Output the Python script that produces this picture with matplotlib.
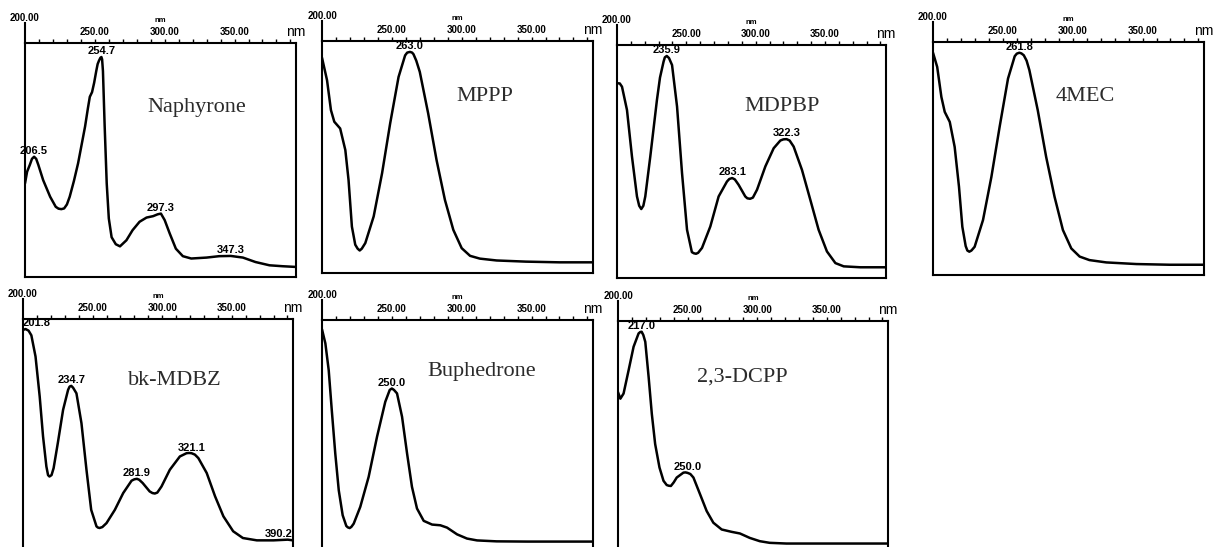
import matplotlib
matplotlib.use("Agg")
import matplotlib.pyplot as plt
import numpy as np

# ---------------- data (normalised absorbance, 0 = frame bottom, 1 = frame top) -------------
naphyrone_wl = [200, 201.5, 203.5, 205, 206.5, 208, 209.5, 213, 218, 222, 224, 226, 228, 230, 232,
                235, 238, 241, 243, 245, 246.4, 248, 249.5, 251, 252, 253, 254, 254.7, 255.2,
                255.8, 257, 258.5, 260, 262, 265, 268, 272.6, 277, 282, 287, 291.7, 295, 297.3,
                300, 303.6, 308, 313, 319, 330, 339, 347.3, 356, 365, 375, 384.5, 394]
naphyrone_ab = [0.40, 0.45, 0.48, 0.505, 0.514, 0.505, 0.48, 0.414, 0.343, 0.30, 0.292, 0.29,
                0.293, 0.31, 0.343, 0.41, 0.486, 0.58, 0.643, 0.72, 0.77, 0.79, 0.83, 0.88, 0.91,
                0.925, 0.937, 0.94, 0.93, 0.88, 0.65, 0.40, 0.25, 0.17, 0.14, 0.131, 0.157, 0.20,
                0.236, 0.254, 0.26, 0.268, 0.271, 0.243, 0.186, 0.121, 0.089, 0.079, 0.083,
                0.089, 0.09, 0.083, 0.064, 0.05, 0.046, 0.043]

mppp_wl = [200, 203.6, 206.4, 208.8, 213, 216.7, 219, 221.4, 223.8, 225.5, 227, 228.5, 231, 237,
           243, 248.8, 254.8, 259.5, 261, 263.0, 264.5, 265.5, 267.5, 270, 276, 282, 288, 294,
           300, 306, 313, 325, 346, 370, 394]
mppp_ab = [0.928, 0.831, 0.702, 0.652, 0.623, 0.53, 0.401, 0.20, 0.122, 0.105, 0.097, 0.105,
           0.129, 0.244, 0.43, 0.645, 0.845, 0.938, 0.95, 0.953, 0.95, 0.943, 0.915, 0.867,
           0.688, 0.487, 0.315, 0.186, 0.107, 0.074, 0.062, 0.054, 0.049, 0.046, 0.046]

mdpbp_wl = [200, 202, 203.6, 207.2, 210.8, 214.4, 216, 217.5, 219, 220.4, 224, 228.8, 231, 233.6,
            234.5, 235.9, 237.5, 239.7, 243.3, 246.9, 250.5, 254, 255.5, 257, 258.5, 261.3,
            267.3, 273.3, 279.3, 281, 283.1, 285, 287.7, 292.5, 294, 296, 298, 301, 307, 313,
            317.8, 320, 322.3, 324.5, 327.4, 333.4, 339.4, 345.4, 351.4, 357.5, 363.5, 375.5,
            394]
mdpbp_ab = [0.836, 0.835, 0.821, 0.721, 0.521, 0.35, 0.31, 0.296, 0.31, 0.35, 0.521, 0.764,
            0.86, 0.929, 0.947, 0.953, 0.944, 0.914, 0.736, 0.45, 0.207, 0.111, 0.106, 0.104,
            0.108, 0.129, 0.221, 0.35, 0.414, 0.425, 0.429, 0.423, 0.40, 0.35, 0.342, 0.34,
            0.345, 0.379, 0.479, 0.557, 0.59, 0.595, 0.596, 0.59, 0.564, 0.464, 0.336, 0.207,
            0.114, 0.064, 0.05, 0.046, 0.046]

mec_wl = [200, 203, 206, 208.4, 212, 215.5, 218.6, 221, 223.4, 224.6, 226, 227.5, 229.8, 235.8,
          241.8, 247.7, 253.7, 258.5, 260, 261.8, 263.3, 265, 267, 269, 275, 281, 287, 293, 299,
          305, 312, 324, 345.6, 369.5, 394]
mec_ab = [0.954, 0.893, 0.764, 0.70, 0.657, 0.55, 0.379, 0.207, 0.124, 0.105, 0.10, 0.105, 0.121,
          0.236, 0.421, 0.636, 0.843, 0.939, 0.95, 0.954, 0.951, 0.943, 0.92, 0.879, 0.707,
          0.507, 0.336, 0.193, 0.114, 0.079, 0.064, 0.054, 0.047, 0.044, 0.044]

mdbz_wl = [200, 201.8, 204, 206, 209, 212, 214.4, 216.8, 218, 219, 220.5, 222, 225, 228.8, 232.4,
           233.5, 234.7, 236, 238.4, 242, 245.6, 249, 252.8, 253.8, 255, 257, 260, 266, 272, 278,
           280, 281.9, 283.5, 286, 291, 293, 294.7, 296.5, 299.5, 305.5, 312.7, 317.5, 319.3,
           321.1, 323.5, 326, 332, 338, 344, 351, 358, 368, 380, 390.2, 394]
mdbz_ab = [0.953, 0.957, 0.95, 0.93, 0.839, 0.667, 0.496, 0.367, 0.33, 0.324, 0.33, 0.36, 0.467,
           0.61, 0.696, 0.71, 0.713, 0.705, 0.681, 0.553, 0.353, 0.181, 0.11, 0.105, 0.103,
           0.107, 0.124, 0.181, 0.253, 0.306, 0.312, 0.314, 0.31, 0.296, 0.26, 0.253, 0.251,
           0.255, 0.281, 0.353, 0.41, 0.424, 0.425, 0.424, 0.418, 0.403, 0.339, 0.239, 0.153,
           0.089, 0.06, 0.05, 0.05, 0.053, 0.05]

buph_wl = [200, 202.4, 204.8, 207, 209.5, 212, 214.8, 217.4, 218.5, 219.8, 221, 222.7, 227.4,
           233.4, 239.4, 245.3, 248.5, 250.0, 251.5, 253.7, 257.3, 260.9, 264.4, 268, 272.8,
           278.8, 284.7, 289.5, 296.7, 303.8, 311, 325, 346.8, 394]
buph_ab = [0.96, 0.90, 0.785, 0.613, 0.427, 0.269, 0.162, 0.116, 0.11, 0.107, 0.112, 0.126,
           0.198, 0.327, 0.499, 0.649, 0.70, 0.706, 0.70, 0.685, 0.585, 0.427, 0.284, 0.191,
           0.138, 0.122, 0.119, 0.109, 0.08, 0.062, 0.054, 0.05, 0.049, 0.049]

dcpp_wl = [200, 201.7, 204, 207.6, 211.2, 214.8, 216, 217.0, 218.2, 219.6, 222, 224.3, 226.7,
           229.8, 232.7, 235, 236.5, 238, 240, 242.2, 247, 248.5, 250.0, 252, 254.2, 259, 263.7,
           268.5, 274.5, 281.6, 287.6, 294.7, 301.9, 309, 321, 342.5, 394]
dcpp_ab = [0.696, 0.668, 0.69, 0.789, 0.89, 0.947, 0.953, 0.954, 0.94, 0.911, 0.761, 0.603,
           0.474, 0.374, 0.317, 0.299, 0.296, 0.295, 0.31, 0.331, 0.352, 0.353, 0.351, 0.346,
           0.331, 0.259, 0.188, 0.138, 0.109, 0.099, 0.092, 0.073, 0.059, 0.052, 0.049, 0.049,
           0.049]

names = ["Naphyrone", "MPPP", "MDPBP", "4MEC", "bk-MDBZ", "Buphedrone", "2,3-DCPP"]
series_wl = [naphyrone_wl, mppp_wl, mdpbp_wl, mec_wl, mdbz_wl, buph_wl, dcpp_wl]
series_ab = [naphyrone_ab, mppp_ab, mdpbp_ab, mec_ab, mdbz_ab, buph_ab, dcpp_ab]
peak_labels = [
    [206.5, 254.7, 297.3, 347.3],
    [263.0],
    [235.9, 283.1, 322.3],
    [261.8],
    [201.8, 234.7, 281.9, 321.1, 390.2],
    [250.0],
    [217.0, 250.0],
]
major_ticks = [250, 300, 350]
first_tick = 200
x_max = 394

# ---------------- layout (pixel boxes: left, right, top, bottom) ----------------
W, H = 1213, 547
boxes = [(25, 296, 43, 277), (322, 593, 41, 273), (617, 886, 45, 278), (933, 1204, 42, 275),
         (23, 293, 319, 552), (322, 593, 320, 553), (618, 888, 321, 555)]
name_pos = [(0.635, 0.726), (0.60, 0.76), (0.613, 0.734), (0.561, 0.768),
            (0.563, 0.738), (0.59, 0.78), (0.46, 0.76)]
label_align = {(4, 201.8): ("left", 200), (4, 390.2): ("right", 394)}

SANS = "Liberation Sans"
SERIF = "Liberation Serif"

fig = plt.figure(figsize=(W / 100, H / 100), dpi=100)

for i, (l, r, t, b) in enumerate(boxes):
    ax = fig.add_axes([l / W, 1 - b / H, (r - l) / W, (b - t) / H])
    hpx = b - t
    ax.plot(series_wl[i], series_ab[i], color="black", lw=1.8, solid_joinstyle="round",
            solid_capstyle="round")
    ax.set_xlim(first_tick, x_max)
    ax.set_ylim(0, 1)
    for s in ax.spines.values():
        s.set_linewidth(1.5)
    ax.set_yticks([])
    ax.xaxis.tick_top()
    ax.set_xticks(major_ticks)
    ax.set_xticklabels([f"{v:.2f}" for v in major_ticks], fontfamily=SANS,
                       fontweight="bold", fontsize=7)
    ax.set_xticks(np.arange(210, x_max, 10), minor=True)
    ax.tick_params(axis="x", which="both", direction="out", length=3, width=1.0, pad=1.5)
    # extended tick at 200 with its label
    ax.plot([0, 0], [1, 1 + 20 / hpx], transform=ax.transAxes, color="black",
            lw=1.5, clip_on=False)
    ax.text(0, 1 + 20 / hpx, f"{first_tick:.2f}", transform=ax.transAxes, ha="center",
            va="bottom", fontfamily=SANS, fontweight="bold", fontsize=7)
    ax.text(0.5, 1 + 19 / hpx, "nm", transform=ax.transAxes, ha="center", va="bottom",
            fontfamily=SANS, fontweight="bold", fontsize=5.5)
    ax.text(1.0, 1 + 11 / hpx, "nm", transform=ax.transAxes, ha="center", va="center",
            fontfamily=SANS, fontsize=10)
    # compound name
    ax.text(name_pos[i][0], name_pos[i][1], names[i], transform=ax.transAxes, ha="center",
            va="center", fontfamily=SERIF, fontsize=16, color="#2b2b2b")
    # peak labels
    for pk in peak_labels[i]:
        yv = float(np.interp(pk, series_wl[i], series_ab[i]))
        ha, xv = label_align.get((i, pk), ("center", pk))
        ax.annotate(f"{pk:.1f}", xy=(xv, yv), xytext=(0, 0.5), textcoords="offset points",
                    ha=ha, va="bottom", fontfamily=SANS, fontweight="bold", fontsize=8,
                    annotation_clip=False)

fig.savefig("out.png", dpi=100)
